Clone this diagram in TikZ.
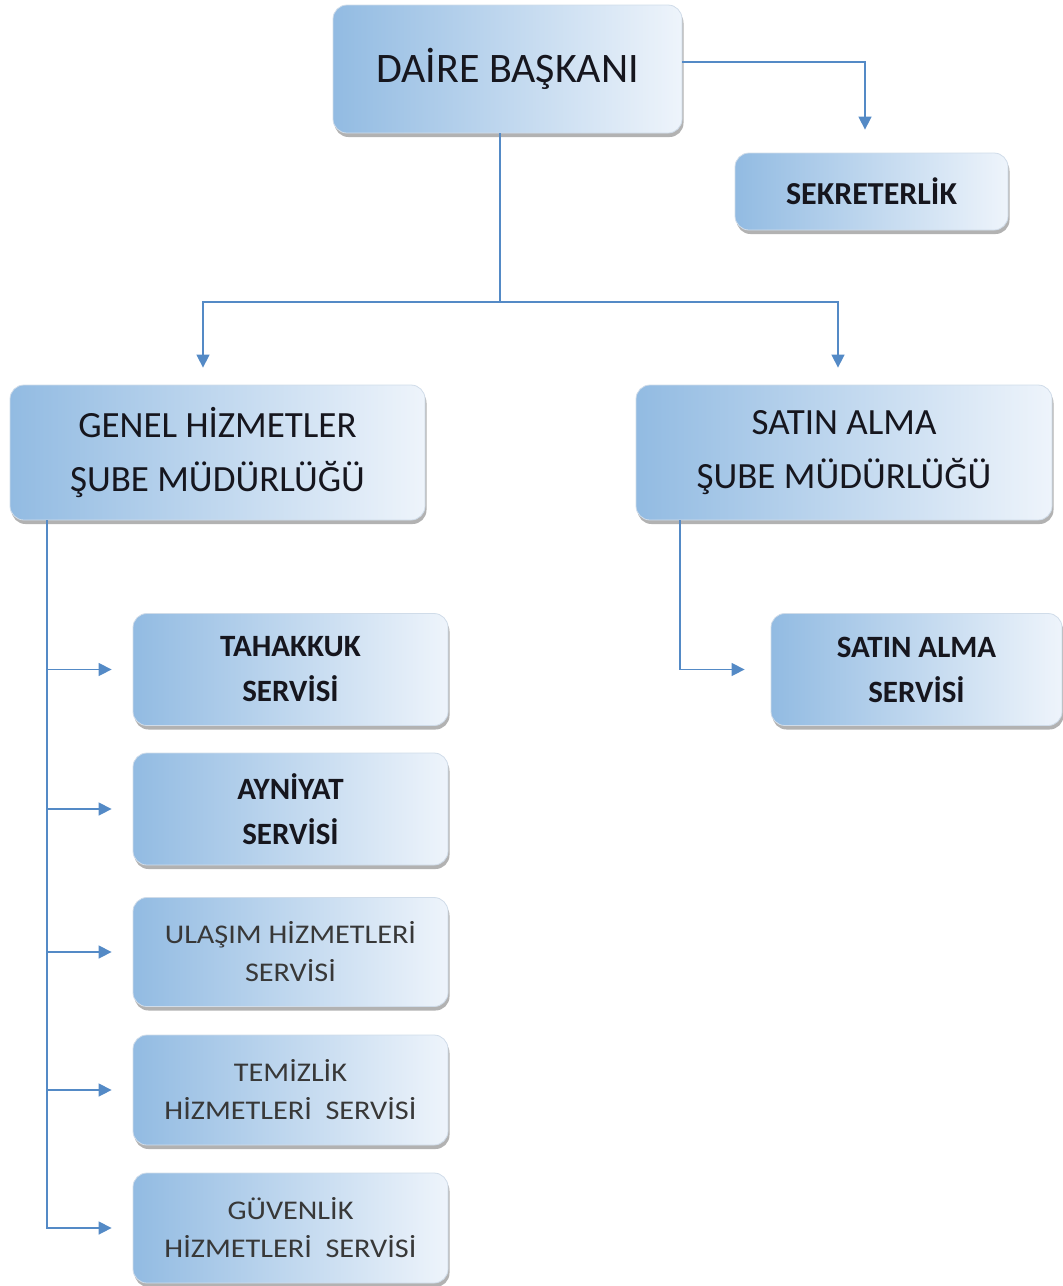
\documentclass[tikz,border=0pt]{standalone}
\usepackage{fontspec}
\setmainfont{Carlito}
\newfontfamily\wideface[FakeStretch=1.12]{Carlito}
\usetikzlibrary{arrows.meta,shadows}

\definecolor{boxleft}{RGB}{146,187,226}
\definecolor{boxright}{RGB}{238,244,251}
\definecolor{boxedge}{RGB}{208,220,233}
\definecolor{linkblue}{RGB}{84,138,198}
\definecolor{inkcol}{RGB}{22,22,30}

\tikzset{
  unitbox/.style={rounded corners=14pt, left color=boxleft, right color=boxright,
    draw=boxedge, line width=0.8pt, align=center, text=inkcol, inner sep=0pt,
    drop shadow={shadow xshift=1.5pt, shadow yshift=-4pt, fill=black!60, opacity=0.5}},
  subbox/.style={unitbox, minimum width=315pt, minimum height=112pt},
  boldtext/.style={font=\bfseries\fontsize{31}{45}\selectfont},
  widetext/.style={font=\wideface\fontsize{27}{38}\selectfont, text=black!78},
  link/.style={draw=linkblue, line width=1.5pt},
  linkarrow/.style={link, -{Triangle[length=13pt,width=13pt]}}
}

\begin{document}
\begin{tikzpicture}[x=1pt,y=-1pt]
    \useasboundingbox (0,0) rectangle (1063,1286);

    % top level
    \node[unitbox, minimum width=349pt, minimum height=128pt, font=\fontsize{42}{50}\selectfont] (baskan) at (507.5,69) {DAİRE BAŞKANI};
    \node[unitbox, minimum width=273pt, minimum height=77pt, font=\bfseries\fontsize{32}{38}\selectfont] (sekreter) at (871.5,191.5) {SEKRETERLİK};

    % branch offices
    \node[unitbox, minimum width=415pt, minimum height=135pt, font=\fontsize{37}{54}\selectfont] (genel) at (217.5,452.5) {GENEL HİZMETLER\\ŞUBE MÜDÜRLÜĞÜ};
    \node[unitbox, minimum width=416pt, minimum height=135pt, font=\fontsize{37}{54}\selectfont] (satin) at (844,452.5) {SATIN ALMA\\ŞUBE MÜDÜRLÜĞÜ};

    % services
    \node[subbox, boldtext] (tahakkuk) at (290.5,669.5) {TAHAKKUK\\SERVİSİ};
    \node[subbox, boldtext] (ayniyat) at (290.5,809) {AYNİYAT\\SERVİSİ};
    \node[subbox, widetext, minimum height=109pt] (ulasim) at (290.5,952) {ULAŞIM HİZMETLERİ\\SERVİSİ};
    \node[subbox, widetext, minimum height=110pt] (temizlik) at (290.5,1090) {TEMİZLİK\\HİZMETLERİ~~SERVİSİ};
    \node[subbox, widetext, minimum height=110pt] (guvenlik) at (290.5,1228) {GÜVENLİK\\HİZMETLERİ~~SERVİSİ};
    \node[unitbox, boldtext, minimum width=291pt, minimum height=112pt] (satinservis) at (916.5,669.5) {SATIN ALMA\\SERVİSİ};

    % connectors
    \draw[linkarrow, shorten >=23pt] ([yshift=7pt]baskan.east) -| ([xshift=-6.5pt]sekreter.north);

    \coordinate (split) at (500,302);
    \draw[link] ([xshift=-7.5pt]baskan.south) -- (split);
    \draw[linkarrow, shorten >=17pt] (split) -| ([xshift=-14.5pt]genel.north);
    \draw[linkarrow, shorten >=17pt] (split) -| ([xshift=-6pt]satin.north);

    \coordinate (gtrunk) at ([xshift=-170.5pt]genel.south);
    \draw[linkarrow, shorten >=21pt] (gtrunk) |- (guvenlik.west);
    \foreach \unit in {tahakkuk,ayniyat,ulasim,temizlik}
        \draw[linkarrow, shorten >=21pt] (gtrunk |- \unit.west) -- (\unit.west);

    \draw[linkarrow, shorten >=26pt] ([xshift=-164pt]satin.south) |- (satinservis.west);
\end{tikzpicture}
\end{document}
